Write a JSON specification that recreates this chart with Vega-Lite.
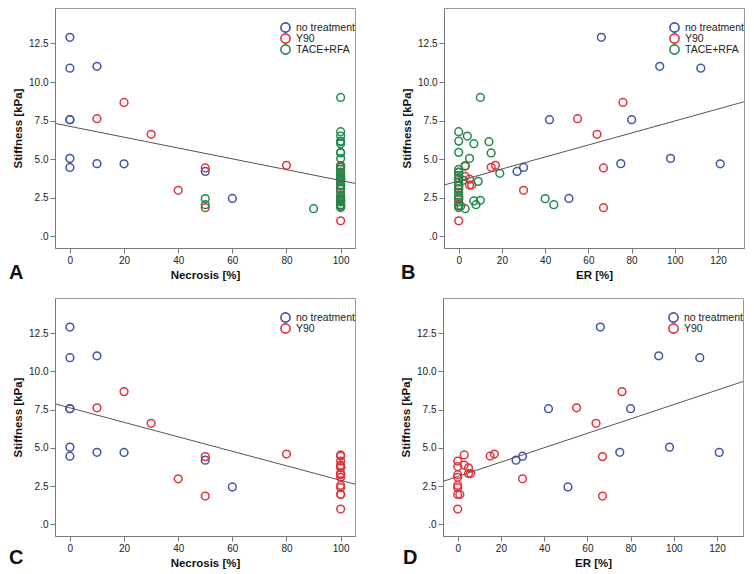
{
  "$schema": "https://vega.github.io/schema/vega-lite/v6.json",
  "background": "white",
  "padding": {"left": 8, "top": 7, "right": 5, "bottom": 5},
  "config": {
    "font": "Liberation Sans",
    "view": {"stroke": "#9a9a9a", "strokeWidth": 1},
    "axis": {
      "labelFont": "Liberation Sans", "labelFontSize": 10, "labelColor": "#222",
      "titleFont": "Liberation Sans", "titleFontSize": 11.5, "titleFontWeight": "bold", "titleColor": "#111",
      "domainColor": "#777", "tickColor": "#777", "tickSize": 5, "grid": false
    },
    "legend": {
      "orient": "none", "legendX": 225, "legendY": 14, "title": null, "labelFont": "Liberation Sans", "labelFontSize": 10.5,
      "labelColor": "#222", "symbolType": "circle", "symbolSize": 85, "symbolStrokeWidth": 1.6,
      "rowPadding": 0, "clipHeight": 11, "padding": 0, "labelOffset": 5
    },
    "title": {"font": "Liberation Sans", "fontSize": 20, "fontWeight": "bold", "color": "#111"}
  },
  "datasets": {
    "pts": [
      {"group": "no treatment", "nec": 0, "er": 66, "stiff": 12.9},
      {"group": "no treatment", "nec": 10, "er": 93, "stiff": 11.02},
      {"group": "no treatment", "nec": 0, "er": 112, "stiff": 10.9},
      {"group": "no treatment", "nec": 0, "er": 42, "stiff": 7.56},
      {"group": "no treatment", "nec": 0, "er": 80, "stiff": 7.56},
      {"group": "no treatment", "nec": 0, "er": 98, "stiff": 5.05},
      {"group": "no treatment", "nec": 0, "er": 30, "stiff": 4.46},
      {"group": "no treatment", "nec": 10, "er": 75, "stiff": 4.71},
      {"group": "no treatment", "nec": 20, "er": 121, "stiff": 4.7},
      {"group": "no treatment", "nec": 50, "er": 27, "stiff": 4.2},
      {"group": "no treatment", "nec": 60, "er": 51, "stiff": 2.45},
      {"group": "Y90", "nec": 10, "er": 55, "stiff": 7.62},
      {"group": "Y90", "nec": 20, "er": 76, "stiff": 8.68},
      {"group": "Y90", "nec": 30, "er": 64, "stiff": 6.61},
      {"group": "Y90", "nec": 40, "er": 30, "stiff": 2.98},
      {"group": "Y90", "nec": 50, "er": 67, "stiff": 4.43},
      {"group": "Y90", "nec": 50, "er": 67, "stiff": 1.85},
      {"group": "Y90", "nec": 80, "er": 17, "stiff": 4.6},
      {"group": "Y90", "nec": 100, "er": 15, "stiff": 4.47},
      {"group": "Y90", "nec": 100, "er": 3, "stiff": 4.54},
      {"group": "Y90", "nec": 100, "er": 0, "stiff": 4.14},
      {"group": "Y90", "nec": 100, "er": 3, "stiff": 3.88},
      {"group": "Y90", "nec": 100, "er": 0, "stiff": 3.78},
      {"group": "Y90", "nec": 100, "er": 5, "stiff": 3.7},
      {"group": "Y90", "nec": 100, "er": 5, "stiff": 3.32},
      {"group": "Y90", "nec": 100, "er": 6, "stiff": 3.32},
      {"group": "Y90", "nec": 100, "er": 0, "stiff": 3.25},
      {"group": "Y90", "nec": 100, "er": 0, "stiff": 3.08},
      {"group": "Y90", "nec": 100, "er": 0, "stiff": 2.55},
      {"group": "Y90", "nec": 100, "er": 0, "stiff": 2.4},
      {"group": "Y90", "nec": 100, "er": 0, "stiff": 1.96},
      {"group": "Y90", "nec": 100, "er": 1, "stiff": 1.96},
      {"group": "Y90", "nec": 100, "er": 0, "stiff": 1.0},
      {"group": "TACE+RFA", "nec": 100, "er": 10, "stiff": 9.0},
      {"group": "TACE+RFA", "nec": 100, "er": 0, "stiff": 6.78},
      {"group": "TACE+RFA", "nec": 100, "er": 0, "stiff": 6.17},
      {"group": "TACE+RFA", "nec": 100, "er": 4, "stiff": 6.5},
      {"group": "TACE+RFA", "nec": 100, "er": 7, "stiff": 6.0},
      {"group": "TACE+RFA", "nec": 100, "er": 14, "stiff": 6.13},
      {"group": "TACE+RFA", "nec": 100, "er": 15, "stiff": 5.4},
      {"group": "TACE+RFA", "nec": 100, "er": 0, "stiff": 5.44},
      {"group": "TACE+RFA", "nec": 100, "er": 5, "stiff": 5.05},
      {"group": "TACE+RFA", "nec": 100, "er": 3, "stiff": 4.58},
      {"group": "TACE+RFA", "nec": 100, "er": 19, "stiff": 4.08},
      {"group": "TACE+RFA", "nec": 100, "er": 9, "stiff": 3.56},
      {"group": "TACE+RFA", "nec": 100, "er": 2, "stiff": 3.63},
      {"group": "TACE+RFA", "nec": 100, "er": 7, "stiff": 2.29},
      {"group": "TACE+RFA", "nec": 100, "er": 10, "stiff": 2.33},
      {"group": "TACE+RFA", "nec": 100, "er": 8, "stiff": 2.05},
      {"group": "TACE+RFA", "nec": 90, "er": 3, "stiff": 1.79},
      {"group": "TACE+RFA", "nec": 50, "er": 40, "stiff": 2.44},
      {"group": "TACE+RFA", "nec": 50, "er": 44, "stiff": 2.05},
      {"group": "TACE+RFA", "nec": 100, "er": 0, "stiff": 1.86},
      {"group": "TACE+RFA", "nec": 100, "er": 0, "stiff": 4.34},
      {"group": "TACE+RFA", "nec": 100, "er": 0, "stiff": 4.16},
      {"group": "TACE+RFA", "nec": 100, "er": 0, "stiff": 3.95},
      {"group": "TACE+RFA", "nec": 100, "er": 0, "stiff": 3.75},
      {"group": "TACE+RFA", "nec": 100, "er": 0, "stiff": 3.52},
      {"group": "TACE+RFA", "nec": 100, "er": 0, "stiff": 3.3},
      {"group": "TACE+RFA", "nec": 100, "er": 0, "stiff": 3.08},
      {"group": "TACE+RFA", "nec": 100, "er": 0, "stiff": 2.87},
      {"group": "TACE+RFA", "nec": 100, "er": 0, "stiff": 2.65},
      {"group": "TACE+RFA", "nec": 100, "er": 0, "stiff": 2.44},
      {"group": "TACE+RFA", "nec": 100, "er": 0, "stiff": 2.22},
      {"group": "TACE+RFA", "nec": 100, "er": 0, "stiff": 2.0}
    ],
    "fits": [
      {"panel": "A", "x": -5.5, "y": 7.32},
      {"panel": "A", "x": 105.3, "y": 3.43},
      {"panel": "B", "x": -6.8, "y": 3.32},
      {"panel": "B", "x": 132, "y": 8.72},
      {"panel": "C", "x": -5.5, "y": 7.88},
      {"panel": "C", "x": 105.3, "y": 2.63},
      {"panel": "D", "x": -6.8, "y": 2.81},
      {"panel": "D", "x": 132, "y": 9.34}
    ]
  },
  "resolve": {"scale": {"color": "independent"}, "legend": {"color": "independent"}},
  "spacing": 14,
  "vconcat": [
    {
      "resolve": {"scale": {"color": "independent"}, "legend": {"color": "independent"}},
      "spacing": 42,
      "hconcat": [
        {
          "width": 300, "height": 240,
          "title": {"text": "A", "orient": "bottom", "anchor": "start", "frame": "group", "offset": 0, "dx": -46, "dy": -18},
          "layer": [
            {
              "data": {"name": "pts"},
              "mark": {"type": "point", "shape": "circle", "filled": false, "size": 60, "strokeWidth": 1.5, "opacity": 1},
              "encoding": {
                "x": {"field": "nec", "type": "quantitative", "scale": {"domain": [-5.5, 105.3], "nice": false, "zero": false}, "axis": {"title": "Necrosis [%]", "values": [0, 20, 40, 60, 80, 100], "titlePadding": 4}},
                "y": {"field": "stiff", "type": "quantitative", "scale": {"domain": [-0.76, 14.8], "nice": false, "zero": false}, "axis": {"title": "Stiffness [kPa]", "values": [0, 2.5, 5, 7.5, 10, 12.5], "labelExpr": "datum.value == 0 ? '.0' : format(datum.value, '.1f')", "titlePadding": 5}},
                "color": {"field": "group", "type": "nominal", "sort": null, "scale": {"domain": ["no treatment", "Y90", "TACE+RFA"], "range": ["#4053a8", "#e4323c", "#22894a"]}}
              }
            },
            {
              "data": {"name": "fits"},
              "transform": [{"filter": "datum.panel == 'A'"}],
              "mark": {"type": "line", "color": "#555", "strokeWidth": 1},
              "encoding": {"x": {"field": "x", "type": "quantitative", "title": "Necrosis [%]"}, "y": {"field": "y", "type": "quantitative", "title": "Stiffness [kPa]"}}
            }
          ]
        },
        {
          "width": 300, "height": 240,
          "title": {"text": "B", "orient": "bottom", "anchor": "start", "frame": "group", "offset": 0, "dx": -43, "dy": -18},
          "layer": [
            {
              "data": {"name": "pts"},
              "mark": {"type": "point", "shape": "circle", "filled": false, "size": 60, "strokeWidth": 1.5, "opacity": 1},
              "encoding": {
                "x": {"field": "er", "type": "quantitative", "scale": {"domain": [-6.8, 132], "nice": false, "zero": false}, "axis": {"title": "ER [%]", "values": [0, 20, 40, 60, 80, 100, 120], "titlePadding": 4}},
                "y": {"field": "stiff", "type": "quantitative", "scale": {"domain": [-0.76, 14.8], "nice": false, "zero": false}, "axis": {"title": "Stiffness [kPa]", "values": [0, 2.5, 5, 7.5, 10, 12.5], "labelExpr": "datum.value == 0 ? '.0' : format(datum.value, '.1f')", "titlePadding": 5}},
                "color": {"field": "group", "type": "nominal", "sort": null, "scale": {"domain": ["no treatment", "Y90", "TACE+RFA"], "range": ["#4053a8", "#e4323c", "#22894a"]}}
              }
            },
            {
              "data": {"name": "fits"},
              "transform": [{"filter": "datum.panel == 'B'"}],
              "mark": {"type": "line", "color": "#555", "strokeWidth": 1},
              "encoding": {"x": {"field": "x", "type": "quantitative", "title": "ER [%]"}, "y": {"field": "y", "type": "quantitative", "title": "Stiffness [kPa]"}}
            }
          ]
        }
      ]
    },
    {
      "resolve": {"scale": {"color": "independent"}, "legend": {"color": "independent"}},
      "spacing": 42,
      "hconcat": [
        {
          "width": 300, "height": 238,
          "title": {"text": "C", "orient": "bottom", "anchor": "start", "frame": "group", "offset": 0, "dx": -46, "dy": -21},
          "layer": [
            {
              "data": {"name": "pts"},
              "transform": [{"filter": "datum.group != 'TACE+RFA'"}],
              "mark": {"type": "point", "shape": "circle", "filled": false, "size": 60, "strokeWidth": 1.5, "opacity": 1},
              "encoding": {
                "x": {"field": "nec", "type": "quantitative", "scale": {"domain": [-5.5, 105.3], "nice": false, "zero": false}, "axis": {"title": "Necrosis [%]", "values": [0, 20, 40, 60, 80, 100], "titlePadding": 4}},
                "y": {"field": "stiff", "type": "quantitative", "scale": {"domain": [-0.76, 14.8], "nice": false, "zero": false}, "axis": {"title": "Stiffness [kPa]", "values": [0, 2.5, 5, 7.5, 10, 12.5], "labelExpr": "datum.value == 0 ? '.0' : format(datum.value, '.1f')", "titlePadding": 5}},
                "color": {"field": "group", "type": "nominal", "sort": null, "scale": {"domain": ["no treatment", "Y90"], "range": ["#4053a8", "#e4323c"]}}
              }
            },
            {
              "data": {"name": "fits"},
              "transform": [{"filter": "datum.panel == 'C'"}],
              "mark": {"type": "line", "color": "#555", "strokeWidth": 1},
              "encoding": {"x": {"field": "x", "type": "quantitative", "title": "Necrosis [%]"}, "y": {"field": "y", "type": "quantitative", "title": "Stiffness [kPa]"}}
            }
          ]
        },
        {
          "width": 300, "height": 238,
          "title": {"text": "D", "orient": "bottom", "anchor": "start", "frame": "group", "offset": 0, "dx": -40, "dy": -21},
          "layer": [
            {
              "data": {"name": "pts"},
              "transform": [{"filter": "datum.group != 'TACE+RFA'"}],
              "mark": {"type": "point", "shape": "circle", "filled": false, "size": 60, "strokeWidth": 1.5, "opacity": 1},
              "encoding": {
                "x": {"field": "er", "type": "quantitative", "scale": {"domain": [-6.8, 132], "nice": false, "zero": false}, "axis": {"title": "ER [%]", "values": [0, 20, 40, 60, 80, 100, 120], "titlePadding": 4}},
                "y": {"field": "stiff", "type": "quantitative", "scale": {"domain": [-0.76, 14.8], "nice": false, "zero": false}, "axis": {"title": "Stiffness [kPa]", "values": [0, 2.5, 5, 7.5, 10, 12.5], "labelExpr": "datum.value == 0 ? '.0' : format(datum.value, '.1f')", "titlePadding": 5}},
                "color": {"field": "group", "type": "nominal", "sort": null, "scale": {"domain": ["no treatment", "Y90"], "range": ["#4053a8", "#e4323c"]}}
              }
            },
            {
              "data": {"name": "fits"},
              "transform": [{"filter": "datum.panel == 'D'"}],
              "mark": {"type": "line", "color": "#555", "strokeWidth": 1},
              "encoding": {"x": {"field": "x", "type": "quantitative", "title": "ER [%]"}, "y": {"field": "y", "type": "quantitative", "title": "Stiffness [kPa]"}}
            }
          ]
        }
      ]
    }
  ]
}
